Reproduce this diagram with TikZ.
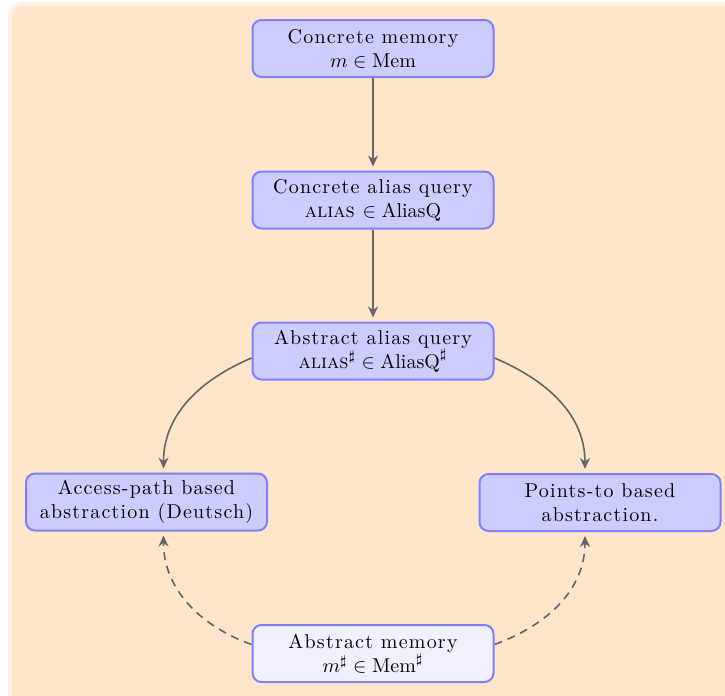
\documentclass[tikz,border=0pt]{standalone}
\usepackage{fontspec}
\newfontfamily\lsfont{Latin Modern Roman}[LetterSpace=6]
\newcommand{\scalias}{{\normalfont\textsc{alias}}}
\usetikzlibrary{arrows.meta,calc}
\definecolor{bgfill}{HTML}{FFE5CC}
\definecolor{bgedge}{HTML}{FFF2E5}
\definecolor{boxfill}{HTML}{CCCCFF}
\definecolor{boxedge}{HTML}{8080FF}
\definecolor{lightbox}{HTML}{F0F0FF}
\definecolor{arrowgray}{HTML}{666666}
\begin{document}
\begin{tikzpicture}[x=0.5pt,y=-0.5pt,
  box/.style={draw=boxedge, fill=boxfill, line width=1pt, rounded corners=4.5pt,
    minimum width=120.5pt, minimum height=28.5pt, align=center, inner sep=2pt, font=\lsfont},
  lbox/.style={box, fill=lightbox},
  conn/.style={draw=arrowgray, line width=0.8pt, -{Stealth[length=5.5pt,width=5pt]}},
  dconn/.style={conn, dash pattern=on 4pt off 3pt}]
\useasboundingbox (0,0) rectangle (725,696);
\begin{scope}
\clip (0,0) rectangle (725,696);
\draw[bgedge, fill=bgfill, line width=2pt, rounded corners=6pt] (10,4) rectangle (740,710);
\end{scope}
\node[box] (cm) at (373,48.5) {Concrete memory\\$m \in \mathrm{Mem}$};
\node[box] (cq) at (373,200) {Concrete alias query\\\scalias{} $\in \mathrm{AliasQ}$};
\node[box] (aq) at (373,351) {Abstract alias query\\\scalias$^\sharp \in \mathrm{AliasQ}^\sharp$};
\node[box] (ap) at (146.5,502) {Access-path based\\abstraction (Deutsch)};
\node[box] (pt) at (600,502.5) {Points-to based\\abstraction.};
\node[lbox] (am) at (373,653.5) {Abstract memory\\$m^\sharp \in \mathrm{Mem}^\sharp$};
\coordinate (apN) at ($(ap.north)+(17,-2)$);
\coordinate (ptN) at ($(pt.north)+(-15,-2)$);
\coordinate (apS) at ($(ap.south)+(17,2)$);
\coordinate (ptS) at ($(pt.south)+(-15,2)$);
\draw[conn, shorten >=2pt] (cm) -- (cq);
\draw[conn, shorten >=2pt] (cq) -- (aq);
\draw[conn, shorten >=1pt] ($(aq.west)+(0,7)$) to[out=203,in=90] (apN);
\draw[conn, shorten >=1pt] ($(aq.east)+(0,7)$) to[out=-23,in=90] (ptN);
\draw[dconn, shorten >=1pt] ($(am.west)+(0,-9)$) to[out=160,in=-90] (apS);
\draw[dconn, shorten >=1pt] ($(am.east)+(0,-9)$) to[out=20,in=-90] (ptS);
\end{tikzpicture}
\end{document}
